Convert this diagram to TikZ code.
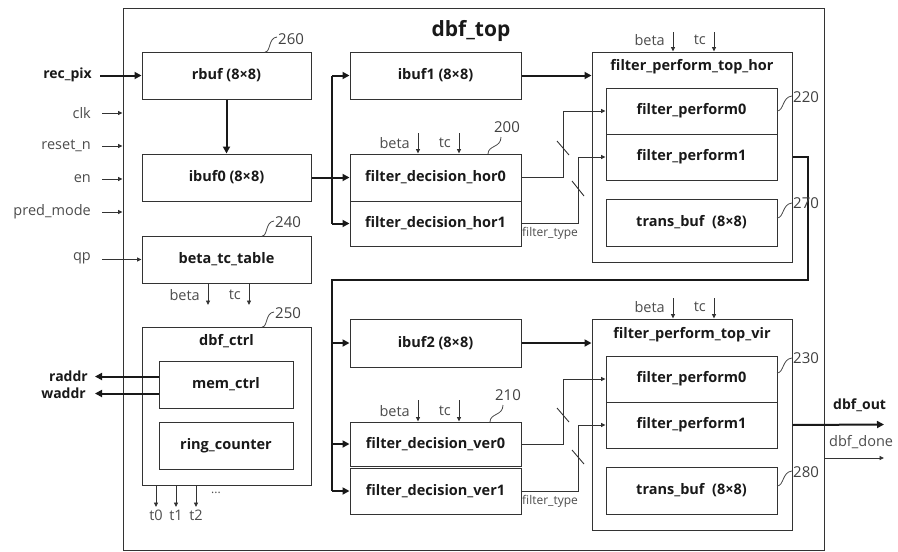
\documentclass[tikz,border=0pt]{standalone}
\usepackage{fontspec}
\setmainfont{Open Sans}
\usetikzlibrary{arrows.meta}
\begin{document}
\begin{tikzpicture}[x=1pt,y=-1pt,
  blk/.style={draw=black!80, line width=1pt, inner sep=0pt, text=black!90,
    font=\bfseries\fontsize{14.5}{16}\selectfont},
  grp/.style={draw=black!80, line width=1pt, inner sep=0pt},
  gtitle/.style={font=\bfseries\fontsize{14.5}{16}\selectfont, text=black!90},
  bus/.style={draw=black!90, line width=2pt, -{Triangle[length=7pt,width=7pt]}},
  busline/.style={draw=black!90, line width=2pt},
  sig/.style={draw=black!80, line width=0.9pt, -{Triangle[length=4.5pt,width=4pt]}},
  wire/.style={draw=black!80, line width=0.9pt},
  lbl/.style={font=\fontsize{14.5}{16}\selectfont, text=black!70, inner sep=1pt},
  blbl/.style={font=\bfseries\fontsize{14}{16}\selectfont, text=black!90, inner sep=1pt},
  small/.style={font=\fontsize{12}{14}\selectfont, text=black!70, inner sep=1pt},
  refno/.style={font=\fontsize{15}{17}\selectfont, text=black!75, inner sep=0pt},
  squig/.style={draw=black!70, line width=0.8pt}
]
\useasboundingbox (0,0) rectangle (898,552);

% top-level module frame
\node[grp, minimum width=701pt, minimum height=542pt] (top) at (473.5,279) {};
\node[font=\bfseries\fontsize{21}{23}\selectfont, text=black!90] (title) at (471,31) {dbf\_top};

% left column
\node[blk, minimum width=169pt, minimum height=47pt] (rbuf) at (226.5,75.5) {rbuf (8×8)};
\node[blk, minimum width=169pt, minimum height=47pt] (ibuf0) at (226.5,177.5) {ibuf0 (8×8)};
\node[blk, minimum width=169pt, minimum height=47pt] (btt) at (226.5,259.5) {beta\_tc\_table};
\node[grp, minimum width=169pt, minimum height=158pt] (ctrl) at (226.5,406) {};
\node[gtitle] (ctrlT) at (226.5,341) {dbf\_ctrl};
\node[blk, minimum width=134pt, minimum height=47pt] (mem) at (226,384.5) {mem\_ctrl};
\node[blk, minimum width=134pt, minimum height=47pt] (ring) at (226,445.5) {ring\_counter};

% middle column, horizontal stage
\node[blk, minimum width=171pt, minimum height=47pt] (ibuf1) at (435.5,75.5) {ibuf1 (8×8)};
\node[blk, minimum width=171pt, minimum height=47pt] (hor0) at (435.5,177.5) {filter\_decision\_hor0};
\node[blk, minimum width=171pt, minimum height=45pt] (hor1) at (435.5,223.5) {filter\_decision\_hor1};

% middle column, vertical stage
\node[blk, minimum width=171pt, minimum height=48pt] (ibuf2) at (435.5,343) {ibuf2 (8×8)};
\node[blk, minimum width=171pt, minimum height=44pt] (ver0) at (435.5,444) {filter\_decision\_ver0};
\node[blk, minimum width=171pt, minimum height=46pt] (ver1) at (435.5,491) {filter\_decision\_ver1};

% right column, horizontal filter
\node[grp, minimum width=200pt, minimum height=210pt] (fpth) at (692,157) {};
\node[gtitle] (fpthT) at (692,67) {filter\_perform\_top\_hor};
\node[blk, minimum width=171pt, minimum height=46pt] (fp0h) at (691.5,111) {filter\_perform0};
\node[blk, minimum width=171pt, minimum height=46pt] (fp1h) at (691.5,157) {filter\_perform1};
\node[blk, minimum width=171pt, minimum height=47pt] (tbh) at (691.5,222.5) {trans\_buf\ \ (8×8)};

% right column, vertical filter
\node[grp, minimum width=200pt, minimum height=211pt] (fptv) at (692,424.5) {};
\node[gtitle] (fptvT) at (692,335) {filter\_perform\_top\_vir};
\node[blk, minimum width=171pt, minimum height=46pt] (fp0v) at (691.5,379) {filter\_perform0};
\node[blk, minimum width=171pt, minimum height=46pt] (fp1v) at (691.5,425) {filter\_perform1};
\node[blk, minimum width=171pt, minimum height=47pt] (tbv) at (691.5,490.5) {trans\_buf\ \ (8×8)};

% primary inputs
\node[blbl, anchor=east] (recpix) at (93,75) {rec\_pix};
\node[lbl, anchor=east] (clk) at (92,113) {clk};
\node[lbl, anchor=east] (rst) at (92,146) {reset\_n};
\node[lbl, anchor=east] (en) at (92,179) {en};
\node[lbl, anchor=east] (pm) at (92,212) {pred\_mode};
\node[lbl, anchor=east] (qp) at (92,258) {qp};
\coordinate (recpixS) at (100,75.5);
\coordinate (clkS) at (102,113);
\coordinate (rstS) at (102,146);
\coordinate (enS) at (102,179);
\coordinate (pmS) at (102,212);
\coordinate (qpS) at (102,259.5);
\draw[bus] (recpixS) -- (rbuf.west);
\draw[sig] (clkS) -- (clkS -| top.west);
\draw[sig] (rstS) -- (rstS -| top.west);
\draw[sig] (enS) -- (enS -| top.west);
\draw[sig] (pmS) -- (pmS -| top.west);
\draw[sig] (qpS) -- (btt.west);

% left column connections
\draw[bus] (rbuf.south) -- (ibuf0.north);
\coordinate (tblB) at (208,305);
\coordinate (tblT) at (249,305);
\draw[sig] (tblB |- btt.south) -- (tblB);
\draw[sig] (tblT |- btt.south) -- (tblT);
\node[lbl, anchor=east] (tblBl) at (201,295) {beta};
\node[lbl, anchor=east] (tblTl) at (242,295) {tc};

% memory address outputs
\coordinate (raddrE) at (95,376.5);
\coordinate (waddrE) at (95,393.5);
\draw[bus] (raddrE -| mem.west) -- (raddrE);
\draw[bus] (waddrE -| mem.west) -- (waddrE);
\node[blbl, anchor=east] (raddr) at (89,376) {raddr};
\node[blbl, anchor=east] (waddr) at (87,393) {waddr};

% ring counter taps
\coordinate (t0E) at (156,507);
\coordinate (t1E) at (176,507);
\coordinate (t2E) at (196,507);
\draw[sig] (t0E |- ctrl.south) -- (t0E);
\draw[sig] (t1E |- ctrl.south) -- (t1E);
\draw[sig] (t2E |- ctrl.south) -- (t2E);
\node[lbl, anchor=north] (t0) at (156,509) {t0};
\node[lbl, anchor=north] (t1) at (176,509) {t1};
\node[lbl, anchor=north] (t2) at (196,509) {t2};
\node[small] (dots) at (216,493) {...};

% horizontal stage data path
\coordinate (busH1) at (332,75.5);
\coordinate (busH2) at (332,223.5);
\draw[busline] (busH1) -- (busH2);
\draw[bus] (busH1) -- (ibuf1.west);
\draw[bus] (busH2) -- (hor1.west);
\draw[bus] (ibuf0.east) -- (hor0.west);
\draw[bus] (ibuf1.east) -- (ibuf1.east -| fpth.west);

\coordinate (hJ0) at (563,177.5);
\coordinate (hJ1) at (578,223.5);
\draw[sig] (hor0.east) -- (hJ0) |- (fp0h.west);
\draw[sig] (hor1.east) -- (hJ1) |- (fp1h.west);
\draw[wire] (557,141) -- (569,155);
\draw[wire] (572,181) -- (584,196);
\node[small, anchor=north west] (ftH) at (521,226) {filter\_type};

% beta / tc into horizontal stage
\coordinate (bH) at (418,133);
\coordinate (tH) at (459,133);
\draw[sig] (bH) -- (bH |- hor0.north);
\draw[sig] (tH) -- (tH |- hor0.north);
\node[lbl, anchor=east] (bHl) at (411,143) {beta};
\node[lbl, anchor=east] (tHl) at (452,143) {tc};
\coordinate (bFH) at (673,32);
\coordinate (tFH) at (714,32);
\draw[sig] (bFH) -- (bFH |- fpth.north);
\draw[sig] (tFH) -- (tFH |- fpth.north);
\node[lbl, anchor=east] (bFHl) at (666,40) {beta};
\node[lbl, anchor=east] (tFHl) at (707,40) {tc};

% feedback from horizontal to vertical stage
\coordinate (fbA) at (808,157);
\coordinate (fbB) at (808,280);
\coordinate (fbC) at (332,280);
\coordinate (fbD) at (332,491);
\draw[busline] (fp1h.east -| fpth.east) -- (fbA) -- (fbB) -- (fbC) -- (fbD);
\draw[bus] (fbC |- ibuf2.west) -- (ibuf2.west);
\draw[bus] (fbC |- ver0.west) -- (ver0.west);
\draw[bus] (fbD) -- (ver1.west);

% vertical stage data path
\draw[bus] (ibuf2.east) -- (ibuf2.east -| fptv.west);
\coordinate (vJ0) at (563,444);
\coordinate (vJ1) at (578,491);
\draw[sig] (ver0.east) -- (vJ0) |- (fp0v.west);
\draw[sig] (ver1.east) -- (vJ1) |- (fp1v.west);
\draw[wire] (557,408) -- (569,422);
\draw[wire] (572,450) -- (584,464);
\node[small, anchor=north west] (ftV) at (521,494) {filter\_type};

% beta / tc into vertical stage
\coordinate (bV) at (418,400);
\coordinate (tV) at (459,400);
\draw[sig] (bV) -- (bV |- ver0.north);
\draw[sig] (tV) -- (tV |- ver0.north);
\node[lbl, anchor=east] (bVl) at (411,411) {beta};
\node[lbl, anchor=east] (tVl) at (452,411) {tc};
\coordinate (bFV) at (673,298);
\coordinate (tFV) at (714,298);
\draw[sig] (bFV) -- (bFV |- fptv.north);
\draw[sig] (tFV) -- (tFV |- fptv.north);
\node[lbl, anchor=east] (bFVl) at (666,307) {beta};
\node[lbl, anchor=east] (tFVl) at (707,307) {tc};

% primary outputs
\coordinate (outE) at (884,424.5);
\coordinate (doneS) at (824,458);
\coordinate (doneE) at (884,458);
\draw[bus] (fp1v.east -| fptv.east) -- (outE);
\draw[sig] (doneS) -- (doneE);
\node[blbl, anchor=west] (dbfout) at (832,405) {dbf\_out};
\node[lbl, anchor=west] (dbfdone) at (828,442) {dbf\_done};

% reference numerals
\draw[squig] (265,52) .. controls (271,52) and (268,38) .. (277,37);
\node[refno, anchor=west] (n260) at (278,39) {260};
\draw[squig] (262,236) .. controls (268,236) and (265,222) .. (274,221);
\node[refno, anchor=west] (n240) at (275,222) {240};
\draw[squig] (262,327) .. controls (268,327) and (265,313) .. (274,312);
\node[refno, anchor=west] (n250) at (275,313) {250};
\draw[squig] (488,154) .. controls (488,145) and (501,148) .. (501,137);
\node[refno] (n200) at (507,127) {200};
\draw[squig] (490,422) .. controls (490,413) and (503,416) .. (503,405);
\node[refno] (n210) at (508,395) {210};
\draw[squig] (777,111) .. controls (784,111) and (782,97) .. (792,96);
\node[refno, anchor=west] (n220) at (793,97) {220};
\draw[squig] (777,218) .. controls (784,218) and (782,204) .. (792,203);
\node[refno, anchor=west] (n270) at (793,203) {270};
\draw[squig] (777,373) .. controls (784,373) and (782,359) .. (792,358);
\node[refno, anchor=west] (n230) at (793,358) {230};
\draw[squig] (777,486) .. controls (784,486) and (782,472) .. (792,471);
\node[refno, anchor=west] (n280) at (793,472) {280};
\end{tikzpicture}
\end{document}
